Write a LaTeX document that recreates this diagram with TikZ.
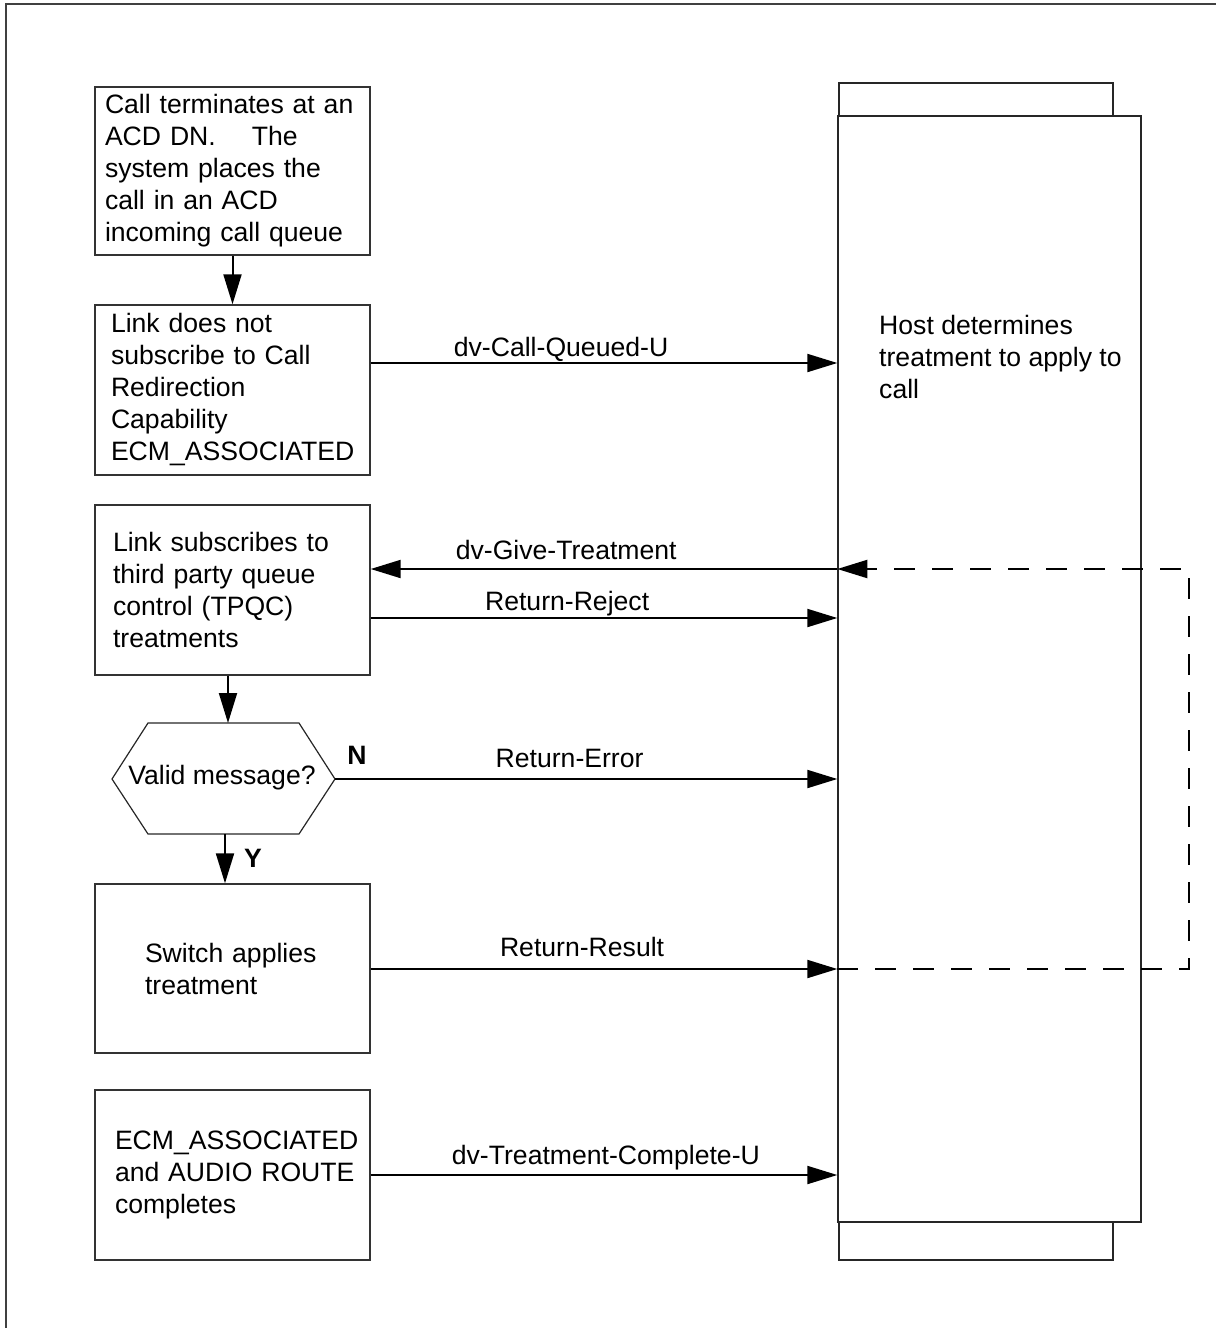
\documentclass[tikz,border=0pt]{standalone}
\usepackage{fontspec}
\setmainfont{Liberation Sans}
\usetikzlibrary{arrows.meta}
\begin{document}
\begin{tikzpicture}[x=1pt,y=-1pt,
  every node/.style={font=\fontsize{26.6}{32}\selectfont},
  box/.style={draw=black!80, line width=1.4pt, minimum width=275pt, align=left, fill=white},
  arr/.style={draw, line width=2pt, -{Triangle[length=30pt,width=18pt]}},
  lbl/.style={anchor=base, inner sep=0pt},
  dsh/.style={line width=2pt, dash pattern=on 21pt off 17pt, -{Triangle[length=30pt,width=18pt]}}
]
\useasboundingbox (0,0) rectangle (1216,1328);
% outer frame
\draw[line width=1.6pt, black!75] (6,1328) -- (6,4) -- (1216,4);

% host boxes
\node[draw=black!85, line width=1.4pt, minimum width=274pt, minimum height=1177pt, inner sep=0pt] (hostback) at (976,671.5) {};
\node[draw=black!85, line width=1.4pt, fill=white, minimum width=303pt, minimum height=1106pt, inner sep=0pt] (host) at (989.5,669) {};
\node[anchor=west, align=left, inner sep=0pt] (hosttext) at (879,357) {Host determines\\treatment to apply to\\call};

% left boxes
\node[box, minimum height=168pt, text width=255pt] (box1) at (232.5,171) {Call terminates at an\\ACD DN.\hspace{36pt}The\\system places the\\call in an ACD\\incoming call queue};
\node[box, minimum height=170pt, text width=243pt] (box2) at (232.5,390) {Link does not\\subscribe to Call\\Redirection\\Capability\\ECM\_ASSOCIATED};
\node[box, minimum height=170pt, text width=239pt] (box3) at (232.5,590) {Link subscribes to\\third party queue\\control (TPQC)\\treatments};
\node[box, minimum height=169pt, text width=175pt] (box4) at (232.5,968.5) {Switch applies\\treatment};
\node[box, minimum height=170pt, text width=235pt] (box5) at (232.5,1175) {ECM\_ASSOCIATED\\\mbox{and AUDIO ROUTE}\\completes};

% hexagon decision
\coordinate (hexW) at (112,779);
\coordinate (hexE) at (335,779);
\coordinate (hexN) at (228,723);
\coordinate (hexS) at (225,834);
\draw[black!85, line width=1.2pt] (hexW) -- (148,723) -- (299,723) -- (hexE) -- (299,834) -- (148,834) -- cycle;
\node (valid) at (222,778) {Valid message?};

% vertical arrows
\draw[arr] (box1.south) -- (box2.north);
\draw[arr] (box3.south -| hexN) -- (hexN);
\draw[arr] (hexS) -- (box4.north -| hexS);
\node[font=\fontsize{26.6}{32}\selectfont\bfseries] (ylbl) at (253,858) {Y};
\node[font=\fontsize{26.6}{32}\selectfont\bfseries] (nlbl) at (357,755) {N};

% horizontal arrow levels
\coordinate (yCQ) at (0,363);
\coordinate (yGT) at (0,569);
\coordinate (yRJ) at (0,618);
\coordinate (yRE) at (0,779);
\coordinate (yRR) at (0,969);
\coordinate (yTC) at (0,1175);
\coordinate (loopT) at (1189,569);
\coordinate (loopB) at (1189,969);

\draw[arr] (box2.east |- yCQ) -- node[lbl, pos=0.408, yshift=7pt] {dv-Call-Queued-U} (host.west |- yCQ);
\draw[arr] (host.west |- yGT) -- node[lbl, pos=0.581, yshift=10pt] {dv-Give-Treatment} (box3.east |- yGT);
\draw[arr] (box3.east |- yRJ) -- node[lbl, pos=0.421, yshift=8pt] {Return-Reject} (host.west |- yRJ);
\draw[arr] (hexE) -- node[lbl, pos=0.467, yshift=12pt] {Return-Error} (host.west |- yRE);
\draw[arr] (box4.east |- yRR) -- node[lbl, pos=0.453, yshift=13pt] {Return-Result} (host.west |- yRR);
\draw[arr] (box5.east |- yTC) -- node[lbl, pos=0.504, yshift=11pt] {dv-Treatment-Complete-U} (host.west |- yTC);

% dashed loop
\draw[dsh] (host.west |- yRR) -- (loopB) -- (loopT) -- (host.west |- yGT);
\end{tikzpicture}
\end{document}
